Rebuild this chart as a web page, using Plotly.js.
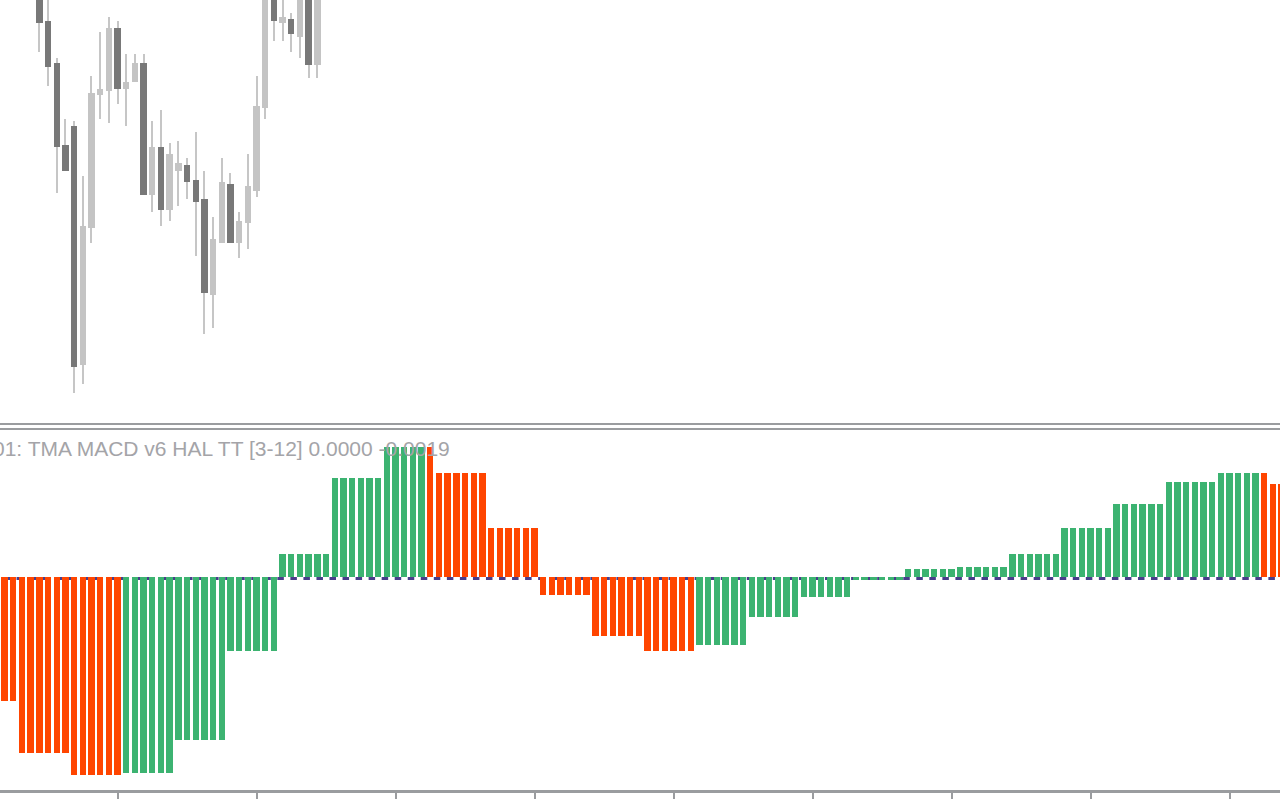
<!DOCTYPE html>
<html>
<head>
<meta charset="utf-8">
<script src="https://cdn.plot.ly/plotly-3.0.1.min.js"></script>
<style>
html,body{margin:0;padding:0;background:#ffffff;}
#chart{width:1280px;height:800px;}
</style>
</head>
<body>
<div id="chart"></div>
<script>
// ---------- price candles (bar index 0..36; first four are outside the view) ----------
const candleOpen  = [null,null,null,null,
  1.1510,1.1479,1.14373,1.1355,1.1374,1.11353,1.12723,1.1405,1.14093,1.1472,
  1.1411,1.1418,1.1437,1.1305,1.1353,1.1290,1.1329,1.1335,1.1320,1.1301,
  1.1205,1.12573,1.1316,1.12573,1.12773,1.13093,1.13923,1.1512,1.14773,1.1481,
  1.14633,1.1510,1.14353];
const candleHigh  = [null,null,null,null,
  1.1515,1.1504,1.14417,1.1381,1.1379,1.1324,1.1424,1.1468,1.1483,1.1479,
  1.1446,1.1446,1.1446,1.1379,1.1390,1.1357,1.1359,1.1342,1.1368,1.1329,
  1.1283,1.1342,1.1327,1.1288,1.1346,1.1424,1.1520,1.1516,1.1504,1.1487,
  1.1512,1.1514,1.1512];
const candleLow   = [null,null,null,null,
  1.14483,1.1414,1.13073,1.1329,1.11073,1.11163,1.12573,1.1381,1.1377,1.1396,
  1.1374,1.1418,1.1305,1.12883,1.12743,1.12793,1.1294,1.1301,1.1244,1.1166,
  1.1172,1.12573,1.12573,1.12423,1.12513,1.13033,1.13813,1.14593,1.14593,1.14483,
  1.14423,1.14223,1.14223];
const candleClose = [null,null,null,null,
  1.14773,1.14333,1.13533,1.1329,1.11333,1.1274,1.1407,1.14113,1.1472,1.1411,
  1.1418,1.1437,1.1305,1.1353,1.1290,1.1346,1.1337,1.1318,1.1298,1.1207,
  1.1261,1.1318,1.12573,1.1279,1.1314,1.1394,1.1515,1.14793,1.1483,1.14663,
  1.1508,1.14353,1.1506];

// ---------- TMA MACD histogram (bar index 0..147) ----------
const histValues = [
  -0.00124,-0.00124,
  -0.00176,-0.00176,-0.00176,-0.00176,-0.00176,-0.00176,
  -0.00198,-0.00198,-0.00198,-0.00198,-0.00198,-0.00198,
  -0.00196,-0.00196,-0.00196,-0.00196,-0.00196,-0.00196,
  -0.00163,-0.00163,-0.00163,-0.00163,-0.00163,-0.00163,
  -0.00074,-0.00074,-0.00074,-0.00074,-0.00074,-0.00074,
   0.00023, 0.00023, 0.00023, 0.00023, 0.00023, 0.00023,
   0.00099, 0.00099, 0.00099, 0.00099, 0.00099, 0.00099,
   0.00130, 0.00130, 0.00130, 0.00130, 0.00130, 0.00130,
   0.00104, 0.00104, 0.00104, 0.00104, 0.00104, 0.00104,
   0.00049, 0.00049, 0.00049, 0.00049, 0.00049, 0.00049,
  -0.00018,-0.00018,-0.00018,-0.00018,-0.00018,-0.00018,
  -0.00059,-0.00059,-0.00059,-0.00059,-0.00059,-0.00059,
  -0.00074,-0.00074,-0.00074,-0.00074,-0.00074,-0.00074,
  -0.00068,-0.00068,-0.00068,-0.00068,-0.00068,-0.00068,
  -0.00040,-0.00040,-0.00040,-0.00040,-0.00040,-0.00040,
  -0.00020,-0.00020,-0.00020,-0.00020,-0.00020,-0.00020,
  -0.00003,-0.00003,-0.00003,-0.00003,-0.00003,-0.00003,
   0.00008, 0.00008, 0.00008, 0.00008, 0.00008, 0.00008,
   0.00010, 0.00010, 0.00010, 0.00010, 0.00010, 0.00010,
   0.00023, 0.00023, 0.00023, 0.00023, 0.00023, 0.00023,
   0.00049, 0.00049, 0.00049, 0.00049, 0.00049, 0.00049,
   0.00073, 0.00073, 0.00073, 0.00073, 0.00073, 0.00073,
   0.00095, 0.00095, 0.00095, 0.00095, 0.00095, 0.00095,
   0.00104, 0.00104, 0.00104, 0.00104, 0.00104, 0.00104,
   0.00093, 0.00093
];
// 1 = rising (green buffer), 0 = falling (orange buffer)
const histRising = [
  0,0,
  0,0,0,0,0,0,
  0,0,0,0,0,0,
  1,1,1,1,1,1,
  1,1,1,1,1,1,
  1,1,1,1,1,1,
  1,1,1,1,1,1,
  1,1,1,1,1,1,
  1,1,1,1,1,0,
  0,0,0,0,0,0,
  0,0,0,0,0,0,
  0,0,0,0,0,0,
  0,0,0,0,0,0,
  0,0,0,0,0,0,
  1,1,1,1,1,1,
  1,1,1,1,1,1,
  1,1,1,1,1,1,
  1,1,1,1,1,1,
  1,1,1,1,1,1,
  1,1,1,1,1,1,
  1,1,1,1,1,1,
  1,1,1,1,1,1,
  1,1,1,1,1,1,
  1,1,1,1,1,1,
  1,1,1,1,1,0,
  0,0
];
const tickIndex = [13,29,45,61,77,93,109,125,141];
const labelText = "01: TMA MACD v6 HAL TT [3-12] 0.0000 -0.0019";

// ---------- styles ----------
const GREEN = '#3CB371', ORANGE = '#FF4500', NAVY = '#483D8B';
const BULL = '#c4c4c4', BEAR = '#787878', WICK = '#c6c6c6', AXIS = '#9a9c9f';

const cx = candleOpen.map((v,i)=>i).filter(i=>candleOpen[i]!==null);
const wickTrace = {
  type:'bar', xaxis:'x', yaxis:'y',
  x: cx, base: cx.map(i=>candleLow[i]), y: cx.map(i=>candleHigh[i]-candleLow[i]),
  width: 0.23, marker:{color:WICK, line:{width:0}}, hoverinfo:'skip'
};
const bodyTrace = {
  type:'bar', xaxis:'x', yaxis:'y',
  x: cx,
  base: cx.map(i=>Math.min(candleOpen[i],candleClose[i])),
  y: cx.map(i=>Math.abs(candleOpen[i]-candleClose[i])),
  width: 0.73,
  marker:{color: cx.map(i=>candleClose[i]>=candleOpen[i]?BULL:BEAR), line:{width:0}},
  hoverinfo:'skip'
};
const hx = histValues.map((v,i)=>i);
const histTrace = {
  type:'bar', xaxis:'x', yaxis:'y2',
  x: hx, y: histValues, width: 0.73,
  marker:{color: histRising.map(r=>r?GREEN:ORANGE), line:{width:0}},
  hoverinfo:'skip'
};

const H = 790; // plot area height in px (margin b = 10)
const frac = px => (H - px)/H;

const layout = {
  width:1280, height:800,
  margin:{l:0,r:0,t:0,b:10,pad:0},
  paper_bgcolor:'#ffffff', plot_bgcolor:'#ffffff',
  showlegend:false, barmode:'overlay', bargap:0,
  xaxis:{domain:[0,1], range:[-0.5295,146.81], anchor:'y2',
    showgrid:false, zeroline:false, showline:true, linecolor:AXIS, linewidth:3,
    ticks:'outside', ticklen:6, tickwidth:2, tickcolor:AXIS,
    tickmode:'array', tickvals:tickIndex, showticklabels:false, fixedrange:true},
  yaxis:{domain:[frac(422),1], range:[1.1078,1.15], visible:false, anchor:'x', fixedrange:true},
  yaxis2:{domain:[0,frac(431)], range:[-0.00213,0.00146], visible:false, anchor:'x', fixedrange:true},
  shapes:[
    {type:'line', xref:'paper', yref:'paper', x0:0, x1:1, y0:frac(424), y1:frac(424),
     line:{color:AXIS, width:2}},
    {type:'line', xref:'paper', yref:'paper', x0:0, x1:1, y0:frac(429), y1:frac(429),
     line:{color:AXIS, width:2}},
    {type:'line', layer:'below', xref:'paper', yref:'y2', x0:3.5/1280, x1:1, y0:-0.000015, y1:-0.000015,
     line:{color:NAVY, width:3, dash:'6.5px,6.54px'}}
  ],
  annotations:[
    {text:labelText, xref:'paper', yref:'paper', x:-9/1280, y:frac(448.5),
     xanchor:'left', yanchor:'middle', showarrow:false,
     font:{family:'Liberation Sans, Arial, sans-serif', size:21, color:'#a4a4a8'}}
  ]
};

Plotly.newPlot('chart', [wickTrace, bodyTrace, histTrace], layout, {staticPlot:true, displayModeBar:false});
</script>
</body>
</html>
